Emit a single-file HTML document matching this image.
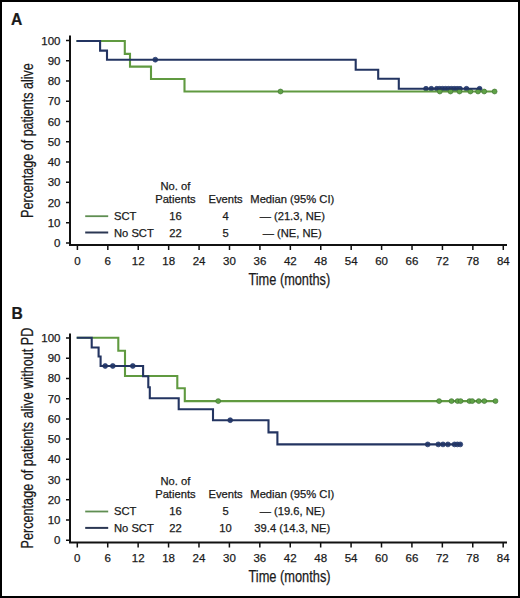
<!DOCTYPE html>
<html><head><meta charset="utf-8"><style>
html,body{margin:0;padding:0;background:#fff;}
body{width:520px;height:598px;overflow:hidden;}
svg{display:block;}
text{font-family:"Liberation Sans", sans-serif;fill:#1a1a1a;stroke:#1a1a1a;stroke-width:0.25px;}
</style></head><body>
<svg width="520" height="598" viewBox="0 0 520 598">
<rect x="0" y="0" width="520" height="598" fill="#fff"/>
<rect x="1" y="1" width="518" height="596" fill="none" stroke="#000" stroke-width="2"/>
<path d="M70,35.5V245.1H507" fill="none" stroke="#111" stroke-width="2"/>
<path d="M66,40.5H70M66,60.75H70M66,81H70M66,101.25H70M66,121.5H70M66,141.75H70M66,162H70M66,182.25H70M66,202.5H70M66,222.75H70M66,243H70M77.4,245.1V250.1M107.82,245.1V250.1M138.24,245.1V250.1M168.66,245.1V250.1M199.08,245.1V250.1M229.5,245.1V250.1M259.92,245.1V250.1M290.34,245.1V250.1M320.76,245.1V250.1M351.18,245.1V250.1M381.6,245.1V250.1M412.02,245.1V250.1M442.44,245.1V250.1M472.86,245.1V250.1M503.28,245.1V250.1" fill="none" stroke="#111" stroke-width="1.5"/>
<text x="60.5" y="44.5" text-anchor="end" font-size="11.5">100</text>
<text x="60.5" y="64.75" text-anchor="end" font-size="11.5">90</text>
<text x="60.5" y="85" text-anchor="end" font-size="11.5">80</text>
<text x="60.5" y="105.25" text-anchor="end" font-size="11.5">70</text>
<text x="60.5" y="125.5" text-anchor="end" font-size="11.5">60</text>
<text x="60.5" y="145.75" text-anchor="end" font-size="11.5">50</text>
<text x="60.5" y="166" text-anchor="end" font-size="11.5">40</text>
<text x="60.5" y="186.25" text-anchor="end" font-size="11.5">30</text>
<text x="60.5" y="206.5" text-anchor="end" font-size="11.5">20</text>
<text x="60.5" y="226.75" text-anchor="end" font-size="11.5">10</text>
<text x="60.5" y="247" text-anchor="end" font-size="11.5">0</text>
<text x="77.4" y="264.6" text-anchor="middle" font-size="11.5">0</text>
<text x="107.82" y="264.6" text-anchor="middle" font-size="11.5">6</text>
<text x="138.24" y="264.6" text-anchor="middle" font-size="11.5">12</text>
<text x="168.66" y="264.6" text-anchor="middle" font-size="11.5">18</text>
<text x="199.08" y="264.6" text-anchor="middle" font-size="11.5">24</text>
<text x="229.5" y="264.6" text-anchor="middle" font-size="11.5">30</text>
<text x="259.92" y="264.6" text-anchor="middle" font-size="11.5">36</text>
<text x="290.34" y="264.6" text-anchor="middle" font-size="11.5">42</text>
<text x="320.76" y="264.6" text-anchor="middle" font-size="11.5">48</text>
<text x="351.18" y="264.6" text-anchor="middle" font-size="11.5">54</text>
<text x="381.6" y="264.6" text-anchor="middle" font-size="11.5">60</text>
<text x="412.02" y="264.6" text-anchor="middle" font-size="11.5">66</text>
<text x="442.44" y="264.6" text-anchor="middle" font-size="11.5">72</text>
<text x="472.86" y="264.6" text-anchor="middle" font-size="11.5">78</text>
<text x="503.28" y="264.6" text-anchor="middle" font-size="11.5">84</text>
<text x="248.45" y="284.6" font-size="16" textLength="81.8" lengthAdjust="spacingAndGlyphs">Time (months)</text>
<text transform="translate(32.8,217.9) rotate(-90)" x="0" y="0" font-size="16" textLength="154.7" lengthAdjust="spacingAndGlyphs">Percentage of patients alive</text>
<text transform="translate(11.1,24.8) scale(0.91,1)" x="0" y="0" font-size="17.2" font-weight="bold">A</text>
<circle cx="155.3" cy="59.7" r="2.45" fill="#2d4680" stroke="#233461" stroke-width="0.7"/>
<circle cx="426" cy="88.8" r="2.45" fill="#2d4680" stroke="#233461" stroke-width="0.7"/>
<circle cx="431.3" cy="88.8" r="2.45" fill="#2d4680" stroke="#233461" stroke-width="0.7"/>
<circle cx="436.8" cy="88.8" r="2.45" fill="#2d4680" stroke="#233461" stroke-width="0.7"/>
<circle cx="439.7" cy="88.8" r="2.45" fill="#2d4680" stroke="#233461" stroke-width="0.7"/>
<circle cx="442.6" cy="88.8" r="2.45" fill="#2d4680" stroke="#233461" stroke-width="0.7"/>
<circle cx="445.5" cy="88.8" r="2.45" fill="#2d4680" stroke="#233461" stroke-width="0.7"/>
<circle cx="448.4" cy="88.8" r="2.45" fill="#2d4680" stroke="#233461" stroke-width="0.7"/>
<circle cx="451.3" cy="88.8" r="2.45" fill="#2d4680" stroke="#233461" stroke-width="0.7"/>
<circle cx="454.2" cy="88.8" r="2.45" fill="#2d4680" stroke="#233461" stroke-width="0.7"/>
<circle cx="457.1" cy="88.8" r="2.45" fill="#2d4680" stroke="#233461" stroke-width="0.7"/>
<circle cx="460" cy="88.8" r="2.45" fill="#2d4680" stroke="#233461" stroke-width="0.7"/>
<circle cx="466.5" cy="88.8" r="2.45" fill="#2d4680" stroke="#233461" stroke-width="0.7"/>
<circle cx="479.6" cy="88.8" r="2.45" fill="#2d4680" stroke="#233461" stroke-width="0.7"/>
<path d="M76.5,41H124.8V53.9H130V66.6H151V79H184.5V91.5H494.6" fill="none" stroke="#609a40" stroke-width="2.1"/>
<circle cx="280.5" cy="91.5" r="2.45" fill="#5fa246" stroke="#3f7430" stroke-width="0.7"/>
<circle cx="439.8" cy="91.5" r="2.45" fill="#5fa246" stroke="#3f7430" stroke-width="0.7"/>
<circle cx="450.5" cy="91.5" r="2.45" fill="#5fa246" stroke="#3f7430" stroke-width="0.7"/>
<circle cx="459.5" cy="91.5" r="2.45" fill="#5fa246" stroke="#3f7430" stroke-width="0.7"/>
<circle cx="470.4" cy="91.5" r="2.45" fill="#5fa246" stroke="#3f7430" stroke-width="0.7"/>
<circle cx="478" cy="91.5" r="2.45" fill="#5fa246" stroke="#3f7430" stroke-width="0.7"/>
<circle cx="484.2" cy="91.5" r="2.45" fill="#5fa246" stroke="#3f7430" stroke-width="0.7"/>
<circle cx="494.6" cy="91.5" r="2.45" fill="#5fa246" stroke="#3f7430" stroke-width="0.7"/>
<path d="M76.5,41H100.1V50.6H107V59.7H355.7V69.7H378.2V78.8H398.8V88.8H481.5" fill="none" stroke="#233461" stroke-width="2.1"/>
<path d="M85.2,216.2H108.2" stroke="#5f8e52" stroke-width="1.8"/>
<path d="M85.2,232.5H108.2" stroke="#2b3753" stroke-width="2"/>
<text x="175.4" y="190.1" font-size="11.2" text-anchor="middle">No. of</text>
<text x="175.4" y="203.1" font-size="11.2" text-anchor="middle">Patients</text>
<text x="225.6" y="203.1" font-size="11.2" text-anchor="middle">Events</text>
<text x="292.3" y="203.1" font-size="11.2" text-anchor="middle">Median (95% CI)</text>
<text x="114" y="219.9" font-size="11.2" text-anchor="start">SCT</text>
<text x="114" y="236.7" font-size="11.2" text-anchor="start">No SCT</text>
<text x="175.4" y="219.9" font-size="11.2" text-anchor="middle">16</text>
<text x="175.4" y="236.7" font-size="11.2" text-anchor="middle">22</text>
<text x="225.6" y="219.9" font-size="11.2" text-anchor="middle">4</text>
<text x="225.6" y="236.7" font-size="11.2" text-anchor="middle">5</text>
<text x="292.3" y="219.9" font-size="11.2" text-anchor="middle">— (21.3, NE)</text>
<text x="292.3" y="236.7" font-size="11.2" text-anchor="middle">— (NE, NE)</text>
<path d="M70,333.5V542.4H507" fill="none" stroke="#111" stroke-width="2"/>
<path d="M66,338H70M66,358.22H70M66,378.44H70M66,398.66H70M66,418.88H70M66,439.1H70M66,459.32H70M66,479.54H70M66,499.76H70M66,519.98H70M66,540.2H70M77.3,542.4V547.4M107.72,542.4V547.4M138.14,542.4V547.4M168.56,542.4V547.4M198.98,542.4V547.4M229.4,542.4V547.4M259.82,542.4V547.4M290.24,542.4V547.4M320.66,542.4V547.4M351.08,542.4V547.4M381.5,542.4V547.4M411.92,542.4V547.4M442.34,542.4V547.4M472.76,542.4V547.4M503.18,542.4V547.4" fill="none" stroke="#111" stroke-width="1.5"/>
<text x="60.5" y="342" text-anchor="end" font-size="11.5">100</text>
<text x="60.5" y="362.22" text-anchor="end" font-size="11.5">90</text>
<text x="60.5" y="382.44" text-anchor="end" font-size="11.5">80</text>
<text x="60.5" y="402.66" text-anchor="end" font-size="11.5">70</text>
<text x="60.5" y="422.88" text-anchor="end" font-size="11.5">60</text>
<text x="60.5" y="443.1" text-anchor="end" font-size="11.5">50</text>
<text x="60.5" y="463.32" text-anchor="end" font-size="11.5">40</text>
<text x="60.5" y="483.54" text-anchor="end" font-size="11.5">30</text>
<text x="60.5" y="503.76" text-anchor="end" font-size="11.5">20</text>
<text x="60.5" y="523.98" text-anchor="end" font-size="11.5">10</text>
<text x="60.5" y="544.2" text-anchor="end" font-size="11.5">0</text>
<text x="77.3" y="562.1" text-anchor="middle" font-size="11.5">0</text>
<text x="107.72" y="562.1" text-anchor="middle" font-size="11.5">6</text>
<text x="138.14" y="562.1" text-anchor="middle" font-size="11.5">12</text>
<text x="168.56" y="562.1" text-anchor="middle" font-size="11.5">18</text>
<text x="198.98" y="562.1" text-anchor="middle" font-size="11.5">24</text>
<text x="229.4" y="562.1" text-anchor="middle" font-size="11.5">30</text>
<text x="259.82" y="562.1" text-anchor="middle" font-size="11.5">36</text>
<text x="290.24" y="562.1" text-anchor="middle" font-size="11.5">42</text>
<text x="320.66" y="562.1" text-anchor="middle" font-size="11.5">48</text>
<text x="351.08" y="562.1" text-anchor="middle" font-size="11.5">54</text>
<text x="381.5" y="562.1" text-anchor="middle" font-size="11.5">60</text>
<text x="411.92" y="562.1" text-anchor="middle" font-size="11.5">66</text>
<text x="442.34" y="562.1" text-anchor="middle" font-size="11.5">72</text>
<text x="472.76" y="562.1" text-anchor="middle" font-size="11.5">78</text>
<text x="503.18" y="562.1" text-anchor="middle" font-size="11.5">84</text>
<text x="248.45" y="582.1" font-size="16" textLength="82.2" lengthAdjust="spacingAndGlyphs">Time (months)</text>
<text transform="translate(32.8,548.5) rotate(-90)" x="0" y="0" font-size="16" textLength="220.9" lengthAdjust="spacingAndGlyphs">Percentage of patients alive without PD</text>
<text transform="translate(11.5,318.9) scale(0.91,1)" x="0" y="0" font-size="17.2" font-weight="bold">B</text>
<circle cx="105.2" cy="366" r="2.45" fill="#2d4680" stroke="#233461" stroke-width="0.7"/>
<circle cx="112.8" cy="366" r="2.45" fill="#2d4680" stroke="#233461" stroke-width="0.7"/>
<circle cx="132.8" cy="366" r="2.45" fill="#2d4680" stroke="#233461" stroke-width="0.7"/>
<circle cx="230.2" cy="420.2" r="2.45" fill="#2d4680" stroke="#233461" stroke-width="0.7"/>
<circle cx="427.7" cy="444.4" r="2.45" fill="#2d4680" stroke="#233461" stroke-width="0.7"/>
<circle cx="438.3" cy="444.4" r="2.45" fill="#2d4680" stroke="#233461" stroke-width="0.7"/>
<circle cx="443" cy="444.4" r="2.45" fill="#2d4680" stroke="#233461" stroke-width="0.7"/>
<circle cx="447.9" cy="444.4" r="2.45" fill="#2d4680" stroke="#233461" stroke-width="0.7"/>
<circle cx="454.5" cy="444.4" r="2.45" fill="#2d4680" stroke="#233461" stroke-width="0.7"/>
<circle cx="457.4" cy="444.4" r="2.45" fill="#2d4680" stroke="#233461" stroke-width="0.7"/>
<circle cx="460.3" cy="444.4" r="2.45" fill="#2d4680" stroke="#233461" stroke-width="0.7"/>
<path d="M76.7,337.8H118.3V350.8H125V376H177.3V388.2H184.8V401.1H495.5" fill="none" stroke="#609a40" stroke-width="2.1"/>
<circle cx="218.2" cy="401.1" r="2.45" fill="#5fa246" stroke="#3f7430" stroke-width="0.7"/>
<circle cx="439.1" cy="401.1" r="2.45" fill="#5fa246" stroke="#3f7430" stroke-width="0.7"/>
<circle cx="451.5" cy="401.1" r="2.45" fill="#5fa246" stroke="#3f7430" stroke-width="0.7"/>
<circle cx="457.6" cy="401.1" r="2.45" fill="#5fa246" stroke="#3f7430" stroke-width="0.7"/>
<circle cx="460.6" cy="401.1" r="2.45" fill="#5fa246" stroke="#3f7430" stroke-width="0.7"/>
<circle cx="469.5" cy="401.1" r="2.45" fill="#5fa246" stroke="#3f7430" stroke-width="0.7"/>
<circle cx="472.2" cy="401.1" r="2.45" fill="#5fa246" stroke="#3f7430" stroke-width="0.7"/>
<circle cx="478.8" cy="401.1" r="2.45" fill="#5fa246" stroke="#3f7430" stroke-width="0.7"/>
<circle cx="484.3" cy="401.1" r="2.45" fill="#5fa246" stroke="#3f7430" stroke-width="0.7"/>
<circle cx="495.5" cy="401.1" r="2.45" fill="#5fa246" stroke="#3f7430" stroke-width="0.7"/>
<path d="M76.7,337.8H91.7V347.5H98.6V356.5H100.6V366H143.1V376.3H148.3V387.3H149.8V398.3H178.7V409.2H213V420.2H268.5V432.4H277.4V444.4H461.5" fill="none" stroke="#233461" stroke-width="2.1"/>
<path d="M85.2,511.5H108.2" stroke="#5f8e52" stroke-width="1.8"/>
<path d="M85.2,527.9H108.2" stroke="#2b3753" stroke-width="2"/>
<text x="175.4" y="485.2" font-size="11.2" text-anchor="middle">No. of</text>
<text x="175.4" y="498.1" font-size="11.2" text-anchor="middle">Patients</text>
<text x="225.6" y="498.1" font-size="11.2" text-anchor="middle">Events</text>
<text x="292.3" y="498.1" font-size="11.2" text-anchor="middle">Median (95% CI)</text>
<text x="114" y="514.9" font-size="11.2" text-anchor="start">SCT</text>
<text x="114" y="531.7" font-size="11.2" text-anchor="start">No SCT</text>
<text x="175.4" y="514.9" font-size="11.2" text-anchor="middle">16</text>
<text x="175.4" y="531.7" font-size="11.2" text-anchor="middle">22</text>
<text x="225.6" y="514.9" font-size="11.2" text-anchor="middle">5</text>
<text x="225.6" y="531.7" font-size="11.2" text-anchor="middle">10</text>
<text x="292.3" y="514.9" font-size="11.2" text-anchor="middle">— (19.6, NE)</text>
<text x="292.3" y="531.7" font-size="11.2" text-anchor="middle">39.4 (14.3, NE)</text>
</svg>
</body></html>
